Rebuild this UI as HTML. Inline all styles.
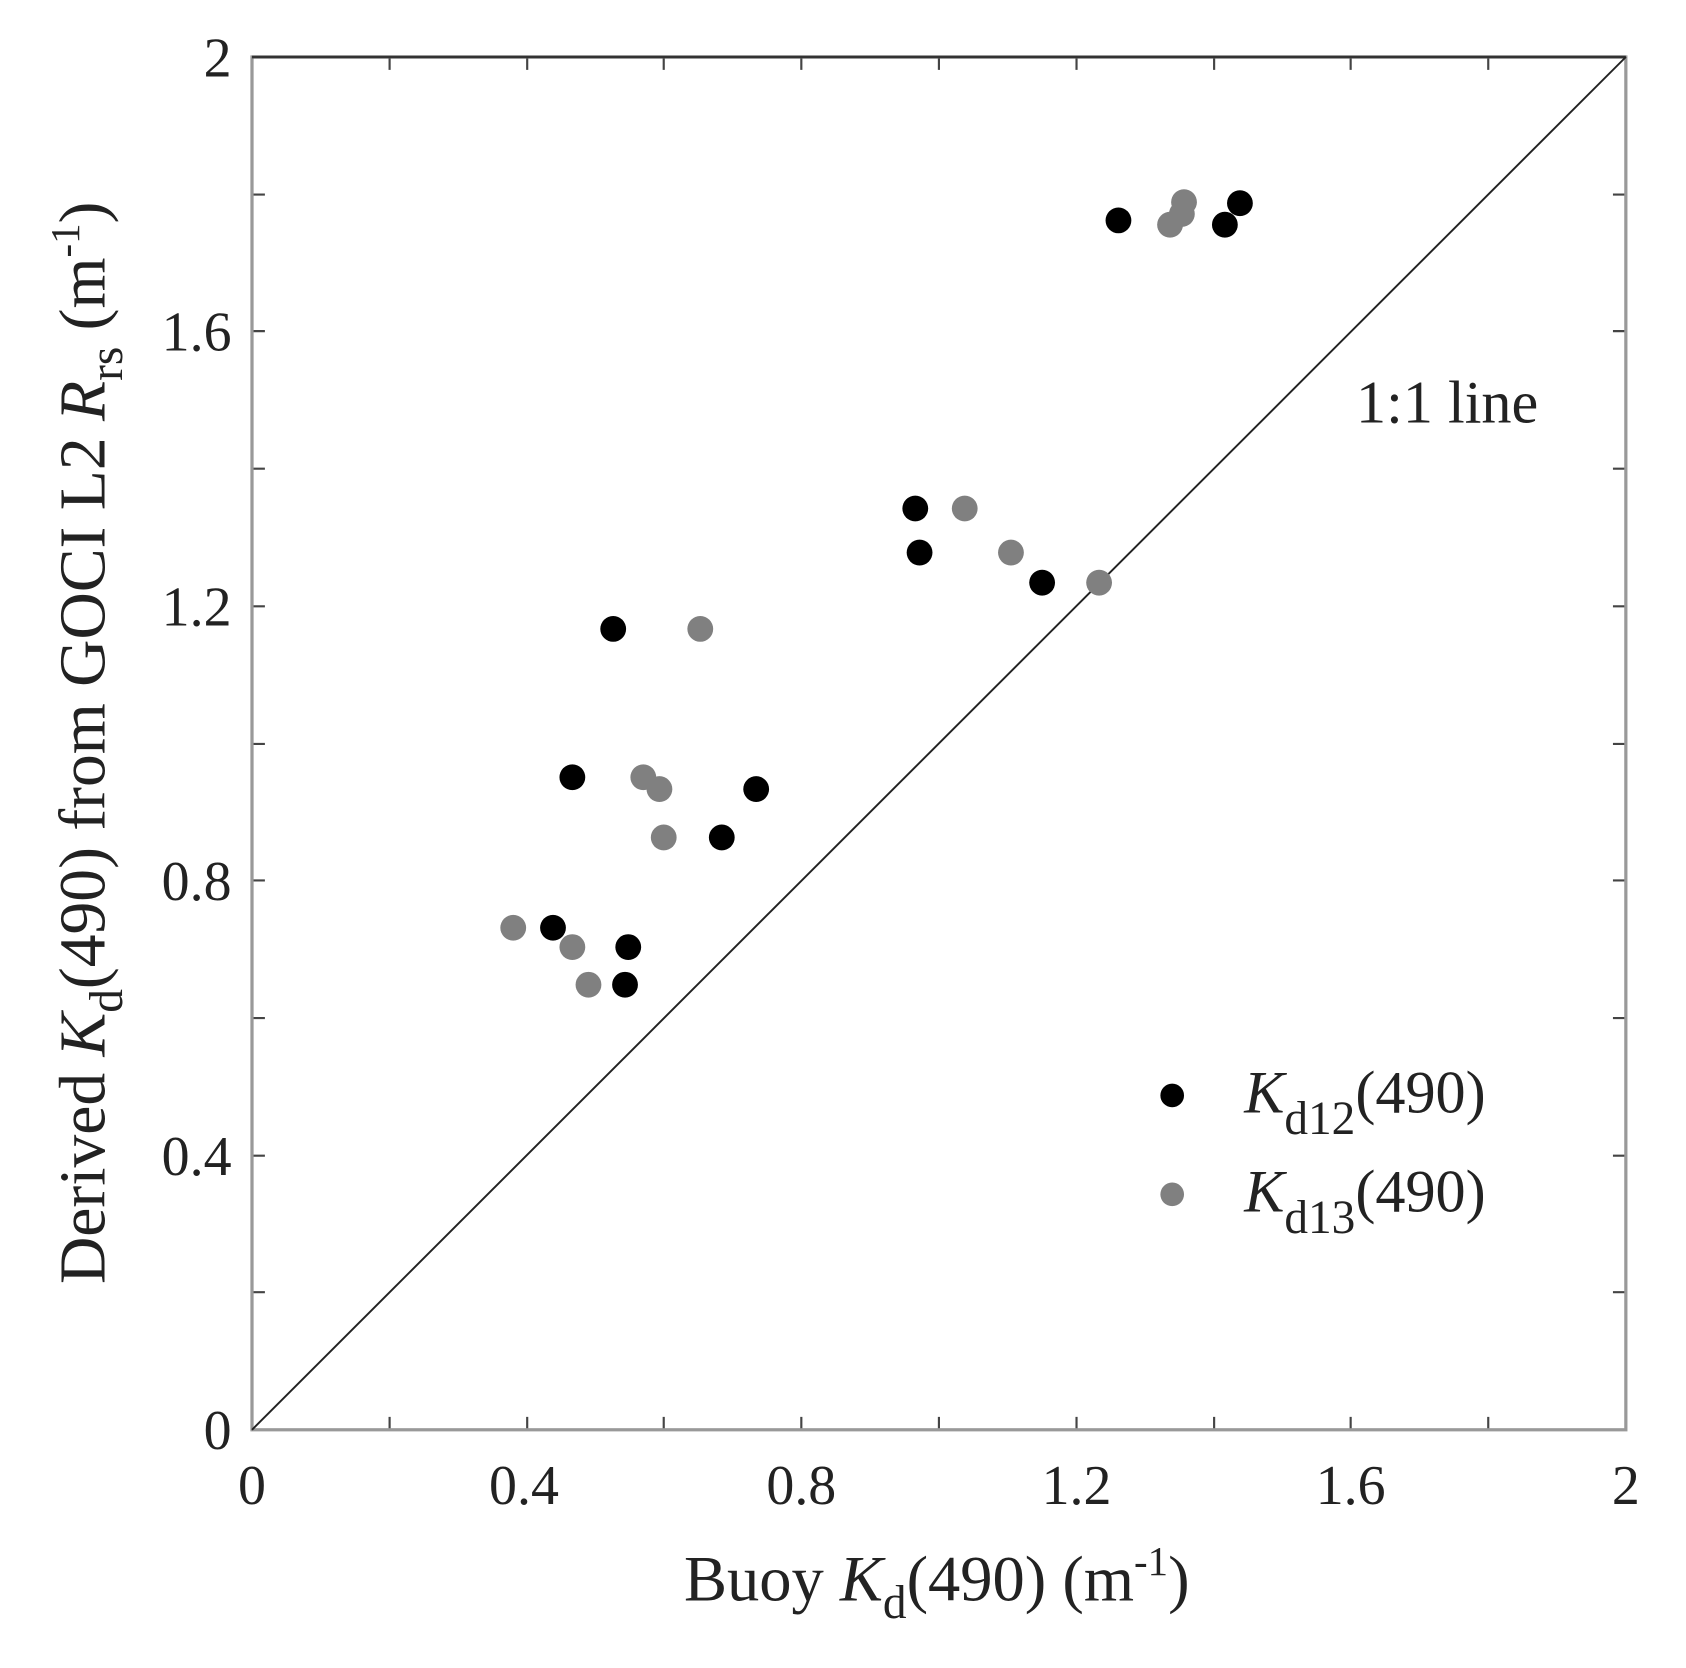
<!DOCTYPE html>
<html><head><meta charset="utf-8"><style>html,body{margin:0;padding:0;background:#fff}svg{display:block}</style></head>
<body>
<svg width="1686" height="1668" viewBox="0 0 1686 1668" xmlns="http://www.w3.org/2000/svg" font-family="Liberation Serif, serif">
<rect width="1686" height="1668" fill="#fff"/>
<g transform="translate(252,57) scale(1.075) translate(-235,-52)">
  <g stroke="#444" stroke-width="2">
    <path d="M363,1329v-12M491,1329v-12M618,1329v-12M746,1329v-12M874,1329v-12M1002,1329v-12M1130,1329v-12M1257,1329v-12M1385,1329v-12
             M363,52v12M491,52v12M618,52v12M746,52v12M874,52v12M1002,52v12M1130,52v12M1257,52v12M1385,52v12
             M235,1201h12M235,1074h12M235,946h12M235,818h12M235,691h12M235,563h12M235,435h12M235,307h12M235,180h12
             M1513,1201h-12M1513,1074h-12M1513,946h-12M1513,818h-12M1513,691h-12M1513,563h-12M1513,435h-12M1513,307h-12M1513,180h-12"/>
  </g>
  <rect x="235" y="52" width="1278" height="1277" fill="none" stroke="#999" stroke-width="3"/>
  <line x1="235" y1="52" x2="1513" y2="52" stroke="#333" stroke-width="2.5"/>
  <line x1="235" y1="1329" x2="1513" y2="52" stroke="#222" stroke-width="1.8"/>
  <g font-size="52" fill="#222" text-anchor="middle">
    <text x="235" y="1398">0</text><text x="488" y="1398">0.4</text><text x="746" y="1398">0.8</text>
    <text x="1002" y="1398">1.2</text><text x="1257" y="1398">1.6</text><text x="1513" y="1398">2</text>
  </g>
  <g font-size="52" fill="#222" text-anchor="end">
    <text x="216" y="1347">0</text><text x="216" y="1092">0.4</text><text x="216" y="836">0.8</text>
    <text x="216" y="581">1.2</text><text x="216" y="325">1.6</text><text x="216" y="70">2</text>
  </g>
  <text x="872" y="1488" font-size="60" fill="#222" text-anchor="middle">Buoy <tspan font-style="italic">K</tspan><tspan font-size="44" dy="16">d</tspan><tspan dy="-16">(490) (m</tspan><tspan font-size="38" dy="-24">-1</tspan><tspan dy="24">)</tspan></text>
  <text transform="translate(98,690) rotate(-90)" font-size="61" fill="#222" text-anchor="middle">Derived <tspan font-style="italic">K</tspan><tspan font-size="44" dy="16">d</tspan><tspan dy="-16">(490) from GOCI L2 </tspan><tspan font-style="italic">R</tspan><tspan font-size="44" dy="16">rs</tspan><tspan dy="-16"> (m</tspan><tspan font-size="38" dy="-24">-1</tspan><tspan dy="24">)</tspan></text>
  <text x="1262" y="392" font-size="56" fill="#222">1:1 line</text>
  <g fill="#000">
    <circle cx="1041" cy="204" r="12"/><circle cx="1140" cy="208" r="12"/><circle cx="1154" cy="188" r="12"/>
    <circle cx="852" cy="472" r="12"/><circle cx="856" cy="513" r="12"/><circle cx="970" cy="541" r="12"/>
    <circle cx="571" cy="584" r="12"/><circle cx="533" cy="722" r="12"/><circle cx="704" cy="733" r="12"/>
    <circle cx="672" cy="778" r="12"/><circle cx="515" cy="862" r="12"/><circle cx="585" cy="880" r="12"/>
    <circle cx="582" cy="915" r="12"/>
  </g>
  <g fill="#808080">
    <circle cx="1089" cy="208" r="12"/><circle cx="1100" cy="198" r="12"/><circle cx="1102" cy="187" r="12"/>
    <circle cx="898" cy="472" r="12"/><circle cx="941" cy="513" r="12"/><circle cx="1023" cy="541" r="12"/>
    <circle cx="652" cy="584" r="12"/><circle cx="478" cy="862" r="12"/><circle cx="599" cy="722" r="12"/>
    <circle cx="614" cy="733" r="12"/><circle cx="618" cy="778" r="12"/><circle cx="533" cy="880" r="12"/>
    <circle cx="548" cy="915" r="12"/>
  </g>
  <circle cx="1091" cy="1018" r="11" fill="#000"/>
  <circle cx="1091" cy="1110" r="11" fill="#808080"/>
  <text x="1158" y="1034" font-size="56" fill="#222"><tspan font-style="italic">K</tspan><tspan font-size="44" dy="20">d12</tspan><tspan dy="-20">(490)</tspan></text>
  <text x="1158" y="1126" font-size="56" fill="#222"><tspan font-style="italic">K</tspan><tspan font-size="44" dy="20">d13</tspan><tspan dy="-20">(490)</tspan></text>
</g>
</svg>
</body></html>
